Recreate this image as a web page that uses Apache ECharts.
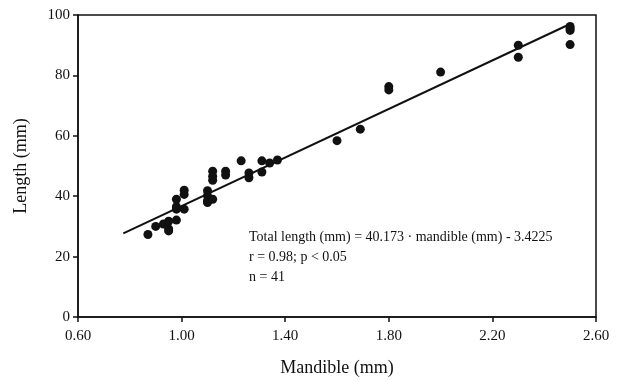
<!DOCTYPE html>
<html>
<head>
<meta charset="utf-8">
<script src="https://cdn.jsdelivr.net/npm/echarts@6/dist/echarts.min.js"></script>
<style>
  html, body { margin: 0; padding: 0; background: #fff; }
  #chart { width: 620px; height: 382px; }
</style>
</head>
<body>
<div id="chart"></div>
<script>
// mandible (mm) vs total length (mm)
const mandible = [0.87, 0.90, 0.93, 0.95, 0.95, 0.95, 0.98, 0.98, 0.98, 0.98,
  1.01, 1.01, 1.01, 1.10, 1.10, 1.10, 1.10, 1.12, 1.12, 1.12,
  1.12, 1.17, 1.17, 1.23, 1.26, 1.26, 1.31, 1.31, 1.34, 1.37,
  1.60, 1.69, 1.80, 1.80, 2.00, 2.30, 2.30, 2.50, 2.50, 2.50, 2.50];
const length = [27.3, 30.0, 30.8, 29.2, 31.7, 28.5, 32.1, 35.7, 36.5, 39.0,
  42.0, 40.6, 35.7, 41.8, 40.2, 37.9, 38.5, 39.0, 48.3, 46.6,
  45.3, 48.3, 47.0, 51.7, 47.7, 46.1, 51.7, 48.0, 51.0, 52.0,
  58.4, 62.2, 76.3, 75.2, 81.1, 90.0, 86.0, 96.2, 94.9, 95.5, 90.2];

const slope = 40.173;
const intercept = -3.4225;
const fitRange = [0.775, 2.5];

const statLines = [
  'Total length (mm) = 40.173 \u00b7 mandible (mm) - 3.4225',
  'r = 0.98; p < 0.05',
  'n = 41'
];

const font = 'Liberation Serif';

const chartDom = document.getElementById('chart');
const myChart = echarts.init(chartDom);

const points = mandible.map((m, i) => [m, length[i]]);
const fit = fitRange.map(x => [x, slope * x + intercept]);

const option = {
  animation: false,
  backgroundColor: '#fff',
  grid: {
    left: 78,
    right: 24,
    top: 15,
    bottom: 61,
    show: true,
    borderColor: '#111',
    borderWidth: 1.5
  },
  xAxis: {
    type: 'value',
    min: 0.6,
    max: 2.6,
    interval: 0.4,
    name: 'Mandible (mm)',
    nameLocation: 'middle',
    nameGap: 42,
    nameTextStyle: { fontFamily: font, fontSize: 18, color: '#111' },
    splitLine: { show: false },
    axisLine: { lineStyle: { color: '#111', width: 1.5 } },
    axisTick: { inside: false, length: 5, lineStyle: { color: '#111', width: 1.5 } },
    axisLabel: {
      fontFamily: font, fontSize: 15, color: '#111', margin: 12,
      formatter: v => v.toFixed(2)
    }
  },
  yAxis: {
    type: 'value',
    min: 0,
    max: 100,
    interval: 20,
    name: 'Length (mm)',
    nameLocation: 'middle',
    nameGap: 48,
    nameTextStyle: { fontFamily: font, fontSize: 18, color: '#111' },
    splitLine: { show: false },
    axisLine: { lineStyle: { color: '#111', width: 1.5 } },
    axisTick: { length: 5, lineStyle: { color: '#111', width: 1.5 } },
    axisLabel: { fontFamily: font, fontSize: 15, color: '#111', margin: 8 }
  },
  graphic: [{
    type: 'text',
    left: 249,
    top: 227,
    style: {
      text: statLines.join('\n'),
      font: '14px "Liberation Serif"',
      lineHeight: 20,
      fill: '#111'
    }
  }],
  series: [
    {
      name: 'fit',
      type: 'line',
      data: fit,
      symbol: 'none',
      lineStyle: { color: '#111', width: 2 },
      z: 2
    },
    {
      name: 'data',
      type: 'scatter',
      data: points,
      symbol: 'circle',
      symbolSize: 9,
      itemStyle: { color: '#111', opacity: 1 },
      z: 3
    }
  ]
};
option && myChart.setOption(option);
</script>
</body>
</html>
